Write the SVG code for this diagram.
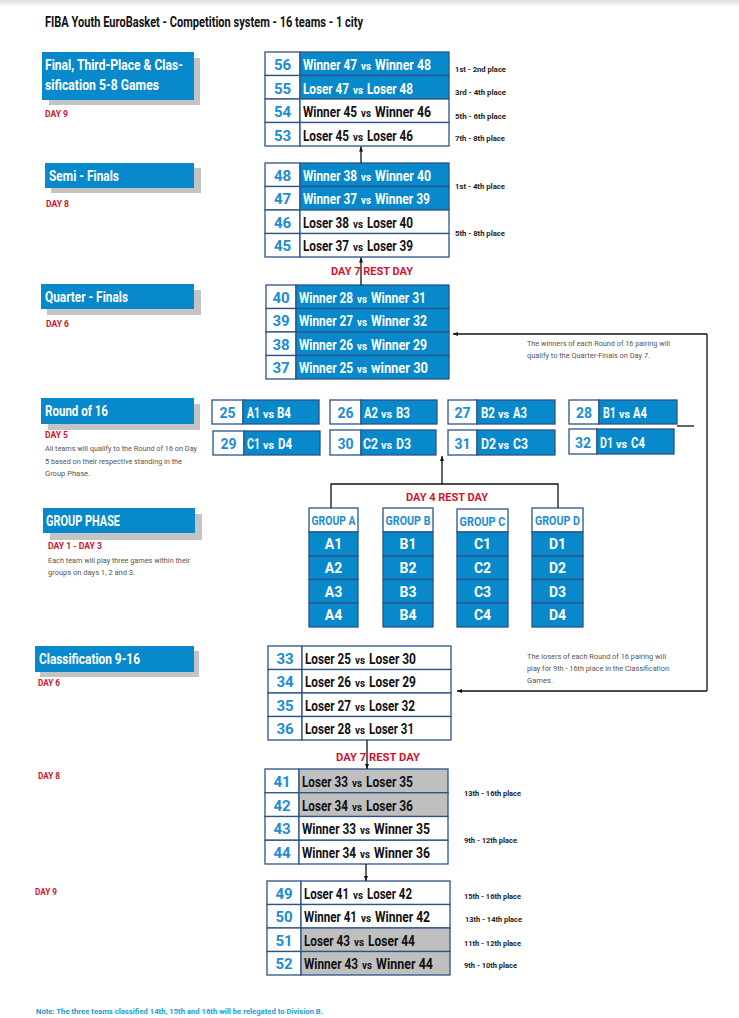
<svg xmlns="http://www.w3.org/2000/svg" width="739" height="1018" viewBox="0 0 739 1018">
<defs>
<linearGradient id="topShade" x1="0" y1="0" x2="0" y2="1">
<stop offset="0" stop-color="#dcdcdc"/>
<stop offset="1" stop-color="#ffffff"/>
</linearGradient>
<marker id="arr" viewBox="0 0 10 10" refX="10" refY="5" markerWidth="5" markerHeight="5" orient="auto-start-reverse" markerUnits="userSpaceOnUse">
<path d="M0,1 L10,5 L0,9 z" fill="#111"/>
</marker>
<style>
text{font-family:"Roboto","Liberation Sans",sans-serif;}
.title{font-size:14px;font-weight:bold;fill:#111;}
.hdr{fill:#0789CC;}
.shadow{fill:#C4C4C4;}
.htxt{font-size:14px;font-weight:bold;fill:#fff;}
.day{font-size:8.5px;font-weight:bold;fill:#D0142C;}
.rest{font-size:11.5px;font-weight:bold;fill:#D0142C;}
.note{font-size:7.5px;fill:#555;}
.place{font-size:7px;font-weight:bold;fill:#222;}
.cell{stroke:#2B5389;stroke-width:1.3;}
.nc{fill:#fff;}
.bc{fill:#0789CC;}
.wc{fill:#fff;}
.gc{fill:#BFBFBF;}
.num{font-size:15px;font-weight:bold;fill:#1C8DD3;text-anchor:middle;}
.rt{font-size:14.5px;font-weight:bold;}
.vs{font-size:10px;font-weight:bold;}
.rw{fill:#fff;}
.rk{fill:#111;}
.r16n{font-size:14px;font-weight:bold;fill:#1C8DD3;text-anchor:middle;}
.r16t{font-size:14px;font-weight:bold;fill:#fff;}
.gh{font-size:13px;font-weight:bold;fill:#1C8DD3;text-anchor:middle;}
.gt{font-size:14px;font-weight:bold;fill:#fff;text-anchor:middle;}
.conn{fill:none;stroke:#111;stroke-width:1.3;}
.foot{font-size:7px;font-weight:bold;fill:#1E9BD7;}
</style>
</defs>
<rect x="0" y="0" width="739" height="1018" fill="#fff"/>
<rect x="0" y="0" width="739" height="7" fill="url(#topShade)"/>

<text class="title" x="45" y="27" textLength="318" lengthAdjust="spacingAndGlyphs">FIBA Youth EuroBasket - Competition system - 16 teams - 1 city</text>

<!-- Left headers -->
<g id="hdr-final">
<rect class="shadow" x="49" y="58" width="151" height="47"/>
<rect class="hdr" x="42" y="52" width="152" height="48"/>
<text class="htxt" x="45" y="70" textLength="138" lengthAdjust="spacingAndGlyphs">Final, Third-Place &amp; Clas-</text>
<text class="htxt" x="45" y="90" textLength="114" lengthAdjust="spacingAndGlyphs">sification 5-8 Games</text>
<text class="day" x="45" y="117" textLength="23" lengthAdjust="spacingAndGlyphs">DAY 9</text>
</g>
<g id="hdr-semi">
<rect class="shadow" x="51" y="168" width="150" height="25"/>
<rect class="hdr" x="45" y="163" width="149" height="25"/>
<text class="htxt" x="49" y="181" textLength="70" lengthAdjust="spacingAndGlyphs">Semi - Finals</text>
<text class="day" x="46" y="207" textLength="23" lengthAdjust="spacingAndGlyphs">DAY 8</text>
</g>
<g id="hdr-qf">
<rect class="shadow" x="47" y="290" width="154" height="25"/>
<rect class="hdr" x="41" y="284" width="153" height="25"/>
<text class="htxt" x="45" y="302" textLength="83" lengthAdjust="spacingAndGlyphs">Quarter - Finals</text>
<text class="day" x="46" y="327" textLength="23" lengthAdjust="spacingAndGlyphs">DAY 6</text>
</g>
<g id="hdr-r16">
<rect class="shadow" x="48" y="404" width="152" height="26"/>
<rect class="hdr" x="41" y="398" width="153" height="26"/>
<text class="htxt" x="45" y="416" textLength="63" lengthAdjust="spacingAndGlyphs">Round of 16</text>
<text class="day" x="45" y="438" style="font-size:9.5px" textLength="23" lengthAdjust="spacingAndGlyphs">DAY 5</text>
<text class="note" x="45" y="451" textLength="152" lengthAdjust="spacingAndGlyphs">All teams will qualify to the Round of 16 on Day</text>
<text class="note" x="45" y="464" textLength="137" lengthAdjust="spacingAndGlyphs">5 based on their respective standing in the</text>
<text class="note" x="45" y="476" textLength="45" lengthAdjust="spacingAndGlyphs">Group Phase.</text>
</g>
<g id="hdr-group">
<rect class="shadow" x="50" y="514" width="152" height="26"/>
<rect class="hdr" x="43" y="508" width="152" height="25"/>
<text class="htxt" x="46" y="526" textLength="74" lengthAdjust="spacingAndGlyphs">GROUP PHASE</text>
<text class="day" x="48" y="549" textLength="54" lengthAdjust="spacingAndGlyphs">DAY 1 - DAY 3</text>
<text class="note" x="48" y="563" textLength="142" lengthAdjust="spacingAndGlyphs">Each team will play three games within their</text>
<text class="note" x="48" y="575" textLength="87" lengthAdjust="spacingAndGlyphs">groups on days 1, 2 and 3.</text>
</g>
<g id="hdr-class">
<rect class="shadow" x="40" y="651" width="159" height="26"/>
<rect class="hdr" x="35" y="646" width="159" height="26"/>
<text class="htxt" x="39" y="664" textLength="101" lengthAdjust="spacingAndGlyphs">Classification 9-16</text>
<text class="day" x="38" y="686" textLength="22" lengthAdjust="spacingAndGlyphs">DAY 6</text>
</g>
<g id="day8-label"><text class="day" x="38" y="779" textLength="22" lengthAdjust="spacingAndGlyphs">DAY 8</text></g>
<g id="day9-label"><text class="day" x="35" y="895" textLength="22" lengthAdjust="spacingAndGlyphs">DAY 9</text></g>

<!-- Final games table -->
<g id="final-games">
<rect class="cell nc" x="265" y="52" width="35" height="23.5"/><rect class="cell bc" x="300" y="52" width="149" height="23.5"/>
<rect class="cell nc" x="265" y="75.5" width="35" height="23.5"/><rect class="cell bc" x="300" y="75.5" width="149" height="23.5"/>
<rect class="cell nc" x="265" y="99" width="35" height="23.5"/><rect class="cell wc" x="300" y="99" width="149" height="23.5"/>
<rect class="cell nc" x="265" y="122.5" width="35" height="23.5"/><rect class="cell wc" x="300" y="122.5" width="149" height="23.5"/>
<text class="num" x="282.5" y="70">56</text>
<text class="num" x="282.5" y="93.5">55</text>
<text class="num" x="282.5" y="117">54</text>
<text class="num" x="282.5" y="140.5">53</text>
<text class="rt rw" transform="translate(303,70) scale(0.8,1)" textLength="67.5" lengthAdjust="spacingAndGlyphs">Winner 47</text><text class="vs rw" transform="translate(361,70) scale(0.8,1)" textLength="12.5" lengthAdjust="spacingAndGlyphs">vs</text><text class="rt rw" transform="translate(375,70) scale(0.8,1)" textLength="70" lengthAdjust="spacingAndGlyphs">Winner 48</text>
<text class="rt rw" transform="translate(303,93.5) scale(0.8,1)" textLength="57.5" lengthAdjust="spacingAndGlyphs">Loser 47</text><text class="vs rw" transform="translate(353,93.5) scale(0.8,1)" textLength="12.5" lengthAdjust="spacingAndGlyphs">vs</text><text class="rt rw" transform="translate(367,93.5) scale(0.8,1)" textLength="57.5" lengthAdjust="spacingAndGlyphs">Loser 48</text>
<text class="rt rk" transform="translate(303,117) scale(0.8,1)" textLength="67.5" lengthAdjust="spacingAndGlyphs">Winner 45</text><text class="vs rk" transform="translate(361,117) scale(0.8,1)" textLength="12.5" lengthAdjust="spacingAndGlyphs">vs</text><text class="rt rk" transform="translate(375,117) scale(0.8,1)" textLength="70" lengthAdjust="spacingAndGlyphs">Winner 46</text>
<text class="rt rk" transform="translate(303,140.5) scale(0.8,1)" textLength="57.5" lengthAdjust="spacingAndGlyphs">Loser 45</text><text class="vs rk" transform="translate(353,140.5) scale(0.8,1)" textLength="12.5" lengthAdjust="spacingAndGlyphs">vs</text><text class="rt rk" transform="translate(367,140.5) scale(0.8,1)" textLength="57.5" lengthAdjust="spacingAndGlyphs">Loser 46</text>
<text class="place" x="455" y="72" textLength="51" lengthAdjust="spacingAndGlyphs">1st - 2nd place</text>
<text class="place" x="455" y="95" textLength="51" lengthAdjust="spacingAndGlyphs">3rd - 4th place</text>
<text class="place" x="455" y="119" textLength="51" lengthAdjust="spacingAndGlyphs">5th - 6th place</text>
<text class="place" x="455" y="141" textLength="50" lengthAdjust="spacingAndGlyphs">7th - 8th place</text>
</g>

<!-- Semi-finals table -->
<g id="semi-finals">
<rect class="cell nc" x="265" y="163" width="35" height="23.5"/><rect class="cell bc" x="300" y="163" width="149" height="23.5"/>
<rect class="cell nc" x="265" y="186.5" width="35" height="23.5"/><rect class="cell bc" x="300" y="186.5" width="149" height="23.5"/>
<rect class="cell nc" x="265" y="210" width="35" height="23.5"/><rect class="cell wc" x="300" y="210" width="149" height="23.5"/>
<rect class="cell nc" x="265" y="233.5" width="35" height="23.5"/><rect class="cell wc" x="300" y="233.5" width="149" height="23.5"/>
<text class="num" x="282.5" y="180.5">48</text>
<text class="num" x="282.5" y="204">47</text>
<text class="num" x="282.5" y="227.5">46</text>
<text class="num" x="282.5" y="251">45</text>
<text class="rt rw" transform="translate(303,180.5) scale(0.8,1)" textLength="67.5" lengthAdjust="spacingAndGlyphs">Winner 38</text><text class="vs rw" transform="translate(361,180.5) scale(0.8,1)" textLength="12.5" lengthAdjust="spacingAndGlyphs">vs</text><text class="rt rw" transform="translate(375,180.5) scale(0.8,1)" textLength="70" lengthAdjust="spacingAndGlyphs">Winner 40</text>
<text class="rt rw" transform="translate(303,204) scale(0.8,1)" textLength="67.5" lengthAdjust="spacingAndGlyphs">Winner 37</text><text class="vs rw" transform="translate(361,204) scale(0.8,1)" textLength="12.5" lengthAdjust="spacingAndGlyphs">vs</text><text class="rt rw" transform="translate(375,204) scale(0.8,1)" textLength="68.75" lengthAdjust="spacingAndGlyphs">Winner 39</text>
<text class="rt rk" transform="translate(303,227.5) scale(0.8,1)" textLength="57.5" lengthAdjust="spacingAndGlyphs">Loser 38</text><text class="vs rk" transform="translate(353,227.5) scale(0.8,1)" textLength="12.5" lengthAdjust="spacingAndGlyphs">vs</text><text class="rt rk" transform="translate(367,227.5) scale(0.8,1)" textLength="57.5" lengthAdjust="spacingAndGlyphs">Loser 40</text>
<text class="rt rk" transform="translate(303,251) scale(0.8,1)" textLength="57.5" lengthAdjust="spacingAndGlyphs">Loser 37</text><text class="vs rk" transform="translate(353,251) scale(0.8,1)" textLength="12.5" lengthAdjust="spacingAndGlyphs">vs</text><text class="rt rk" transform="translate(367,251) scale(0.8,1)" textLength="57.5" lengthAdjust="spacingAndGlyphs">Loser 39</text>
<text class="place" x="455" y="189" textLength="50" lengthAdjust="spacingAndGlyphs">1st - 4th place</text>
<text class="place" x="455" y="236" textLength="50" lengthAdjust="spacingAndGlyphs">5th - 8th place</text>
</g>

<g id="rest-day7-top"><text class="rest" x="331" y="275" textLength="82" lengthAdjust="spacingAndGlyphs">DAY 7 REST DAY</text></g>

<!-- Quarter-finals table -->
<g id="quarter-finals">
<rect class="cell nc" x="266" y="285" width="30" height="23.5"/><rect class="cell bc" x="296" y="285" width="153" height="23.5"/>
<rect class="cell nc" x="266" y="308.5" width="30" height="23.5"/><rect class="cell bc" x="296" y="308.5" width="153" height="23.5"/>
<rect class="cell nc" x="266" y="332" width="30" height="23.5"/><rect class="cell bc" x="296" y="332" width="153" height="23.5"/>
<rect class="cell nc" x="266" y="355.5" width="30" height="23.5"/><rect class="cell bc" x="296" y="355.5" width="153" height="23.5"/>
<text class="num" x="281" y="302.5">40</text>
<text class="num" x="281" y="326">39</text>
<text class="num" x="281" y="349.5">38</text>
<text class="num" x="281" y="373">37</text>
<text class="rt rw" transform="translate(299,302.5) scale(0.8,1)" textLength="67.5" lengthAdjust="spacingAndGlyphs">Winner 28</text><text class="vs rw" transform="translate(357,302.5) scale(0.8,1)" textLength="12.5" lengthAdjust="spacingAndGlyphs">vs</text><text class="rt rw" transform="translate(371,302.5) scale(0.8,1)" textLength="68.75" lengthAdjust="spacingAndGlyphs">Winner 31</text>
<text class="rt rw" transform="translate(299,326) scale(0.8,1)" textLength="67.5" lengthAdjust="spacingAndGlyphs">Winner 27</text><text class="vs rw" transform="translate(357,326) scale(0.8,1)" textLength="12.5" lengthAdjust="spacingAndGlyphs">vs</text><text class="rt rw" transform="translate(371,326) scale(0.8,1)" textLength="70" lengthAdjust="spacingAndGlyphs">Winner 32</text>
<text class="rt rw" transform="translate(299,349.5) scale(0.8,1)" textLength="67.5" lengthAdjust="spacingAndGlyphs">Winner 26</text><text class="vs rw" transform="translate(357,349.5) scale(0.8,1)" textLength="12.5" lengthAdjust="spacingAndGlyphs">vs</text><text class="rt rw" transform="translate(371,349.5) scale(0.8,1)" textLength="70" lengthAdjust="spacingAndGlyphs">Winner 29</text>
<text class="rt rw" transform="translate(299,373) scale(0.8,1)" textLength="67.5" lengthAdjust="spacingAndGlyphs">Winner 25</text><text class="vs rw" transform="translate(357,373) scale(0.8,1)" textLength="12.5" lengthAdjust="spacingAndGlyphs">vs</text><text class="rt rw" transform="translate(371,373) scale(0.8,1)" textLength="71.25" lengthAdjust="spacingAndGlyphs">winner 30</text>
</g>
<g id="qf-note">
<text class="note" x="527" y="346" textLength="143" lengthAdjust="spacingAndGlyphs">The winners of each Round of 16 pairing will</text>
<text class="note" x="527" y="358" textLength="123" lengthAdjust="spacingAndGlyphs">qualify to the Quarter-Finals on Day 7.</text>
</g>

<!-- Round of 16 -->
<g id="g25"><rect class="cell nc" x="212" y="400" width="31" height="24"/><rect class="cell bc" x="243" y="400" width="76" height="24"/><text class="r16n" x="227.5" y="418">25</text><text class="r16t" transform="translate(247,418) scale(0.8,1)" textLength="16.25" lengthAdjust="spacingAndGlyphs">A1</text><text class="vs rw" transform="translate(263,418) scale(0.8,1)" textLength="13.75" lengthAdjust="spacingAndGlyphs">vs</text><text class="r16t" transform="translate(277,418) scale(0.8,1)" textLength="17.5" lengthAdjust="spacingAndGlyphs">B4</text></g>
<g id="g26"><rect class="cell nc" x="330" y="400" width="31" height="24"/><rect class="cell bc" x="361" y="400" width="76" height="24"/><text class="r16n" x="345.5" y="418">26</text><text class="r16t" transform="translate(364,418) scale(0.8,1)" textLength="17.5" lengthAdjust="spacingAndGlyphs">A2</text><text class="vs rw" transform="translate(381,418) scale(0.8,1)" textLength="13.75" lengthAdjust="spacingAndGlyphs">vs</text><text class="r16t" transform="translate(396,418) scale(0.8,1)" textLength="17.5" lengthAdjust="spacingAndGlyphs">B3</text></g>
<g id="g27"><rect class="cell nc" x="448" y="400" width="29" height="24"/><rect class="cell bc" x="477" y="400" width="78" height="24"/><text class="r16n" x="462.5" y="418">27</text><text class="r16t" transform="translate(481,418) scale(0.8,1)" textLength="17.5" lengthAdjust="spacingAndGlyphs">B2</text><text class="vs rw" transform="translate(498,418) scale(0.8,1)" textLength="13.75" lengthAdjust="spacingAndGlyphs">vs</text><text class="r16t" transform="translate(513,418) scale(0.8,1)" textLength="17.5" lengthAdjust="spacingAndGlyphs">A3</text></g>
<g id="g28"><rect class="cell nc" x="569" y="400" width="30" height="24"/><rect class="cell bc" x="599" y="400" width="78" height="24"/><text class="r16n" x="584" y="418">28</text><text class="r16t" transform="translate(603,418) scale(0.8,1)" textLength="16.25" lengthAdjust="spacingAndGlyphs">B1</text><text class="vs rw" transform="translate(619,418) scale(0.8,1)" textLength="13.75" lengthAdjust="spacingAndGlyphs">vs</text><text class="r16t" transform="translate(633,418) scale(0.8,1)" textLength="17.5" lengthAdjust="spacingAndGlyphs">A4</text></g>
<g id="g29"><rect class="cell nc" x="213" y="431" width="31" height="24"/><rect class="cell bc" x="244" y="431" width="76" height="24"/><text class="r16n" x="228.5" y="449">29</text><text class="r16t" transform="translate(247,449) scale(0.8,1)" textLength="16.25" lengthAdjust="spacingAndGlyphs">C1</text><text class="vs rw" transform="translate(263,449) scale(0.8,1)" textLength="13.75" lengthAdjust="spacingAndGlyphs">vs</text><text class="r16t" transform="translate(278,449) scale(0.8,1)" textLength="17.5" lengthAdjust="spacingAndGlyphs">D4</text></g>
<g id="g30"><rect class="cell nc" x="330" y="430" width="31" height="25"/><rect class="cell bc" x="361" y="430" width="75" height="25"/><text class="r16n" x="345.5" y="448.5">30</text><text class="r16t" transform="translate(363,448.5) scale(0.8,1)" textLength="18.75" lengthAdjust="spacingAndGlyphs">C2</text><text class="vs rw" transform="translate(381,448.5) scale(0.8,1)" textLength="13.75" lengthAdjust="spacingAndGlyphs">vs</text><text class="r16t" transform="translate(396,448.5) scale(0.8,1)" textLength="18.75" lengthAdjust="spacingAndGlyphs">D3</text></g>
<g id="g31"><rect class="cell nc" x="448" y="430" width="29" height="25"/><rect class="cell bc" x="477" y="430" width="78" height="25"/><text class="r16n" x="462.5" y="448.5">31</text><text class="r16t" transform="translate(481,448.5) scale(0.8,1)" textLength="18.75" lengthAdjust="spacingAndGlyphs">D2</text><text class="vs rw" transform="translate(498,448.5) scale(0.8,1)" textLength="13.75" lengthAdjust="spacingAndGlyphs">vs</text><text class="r16t" transform="translate(513,448.5) scale(0.8,1)" textLength="18.75" lengthAdjust="spacingAndGlyphs">C3</text></g>
<g id="g32"><rect class="cell nc" x="569" y="429" width="28" height="25"/><rect class="cell bc" x="597" y="429" width="77" height="25"/><text class="r16n" x="583" y="447.5">32</text><text class="r16t" transform="translate(600,447.5) scale(0.8,1)" textLength="16.25" lengthAdjust="spacingAndGlyphs">D1</text><text class="vs rw" transform="translate(616,447.5) scale(0.8,1)" textLength="13.75" lengthAdjust="spacingAndGlyphs">vs</text><text class="r16t" transform="translate(631,447.5) scale(0.8,1)" textLength="17.5" lengthAdjust="spacingAndGlyphs">C4</text></g>

<g id="rest-day4"><text class="rest" x="406" y="501" textLength="82" lengthAdjust="spacingAndGlyphs">DAY 4 REST DAY</text></g>

<!-- Groups -->
<g id="group-a">
<rect class="cell wc" x="309" y="508" width="49" height="24"/>
<rect class="cell bc" x="309" y="532" width="49" height="24"/><rect class="cell bc" x="309" y="556" width="49" height="23.5"/><rect class="cell bc" x="309" y="579.5" width="49" height="23.5"/><rect class="cell bc" x="309" y="603" width="49" height="24"/>
<text class="gh" x="333.5" y="525" textLength="44" lengthAdjust="spacingAndGlyphs">GROUP A</text>
<text class="gt" x="333.5" y="549">A1</text><text class="gt" x="333.5" y="573">A2</text><text class="gt" x="333.5" y="596.5">A3</text><text class="gt" x="333.5" y="620">A4</text>
</g>
<g id="group-b">
<rect class="cell wc" x="383" y="508" width="50" height="24"/>
<rect class="cell bc" x="383" y="532" width="50" height="24"/><rect class="cell bc" x="383" y="556" width="50" height="23.5"/><rect class="cell bc" x="383" y="579.5" width="50" height="23.5"/><rect class="cell bc" x="383" y="603" width="50" height="24"/>
<text class="gh" x="408" y="525" textLength="45" lengthAdjust="spacingAndGlyphs">GROUP B</text>
<text class="gt" x="408" y="549">B1</text><text class="gt" x="408" y="573">B2</text><text class="gt" x="408" y="596.5">B3</text><text class="gt" x="408" y="620">B4</text>
</g>
<g id="group-c">
<rect class="cell wc" x="457" y="509" width="51" height="23"/>
<rect class="cell bc" x="457" y="532" width="51" height="24"/><rect class="cell bc" x="457" y="556" width="51" height="23.5"/><rect class="cell bc" x="457" y="579.5" width="51" height="23.5"/><rect class="cell bc" x="457" y="603" width="51" height="24"/>
<text class="gh" x="482.5" y="526" textLength="46" lengthAdjust="spacingAndGlyphs">GROUP C</text>
<text class="gt" x="482.5" y="549">C1</text><text class="gt" x="482.5" y="573">C2</text><text class="gt" x="482.5" y="596.5">C3</text><text class="gt" x="482.5" y="620">C4</text>
</g>
<g id="group-d">
<rect class="cell wc" x="532" y="508" width="51" height="24"/>
<rect class="cell bc" x="532" y="532" width="51" height="24"/><rect class="cell bc" x="532" y="556" width="51" height="23.5"/><rect class="cell bc" x="532" y="579.5" width="51" height="23.5"/><rect class="cell bc" x="532" y="603" width="51" height="24"/>
<text class="gh" x="557.5" y="525" textLength="45" lengthAdjust="spacingAndGlyphs">GROUP D</text>
<text class="gt" x="557.5" y="549">D1</text><text class="gt" x="557.5" y="573">D2</text><text class="gt" x="557.5" y="596.5">D3</text><text class="gt" x="557.5" y="620">D4</text>
</g>

<!-- Classification 9-16 -->
<g id="class-9-16">
<rect class="cell nc" x="268" y="646" width="34" height="23.5"/><rect class="cell wc" x="302" y="646" width="149" height="23.5"/>
<rect class="cell nc" x="268" y="669.5" width="34" height="23.5"/><rect class="cell wc" x="302" y="669.5" width="149" height="23.5"/>
<rect class="cell nc" x="268" y="693" width="34" height="23.5"/><rect class="cell wc" x="302" y="693" width="149" height="23.5"/>
<rect class="cell nc" x="268" y="716.5" width="34" height="23.5"/><rect class="cell wc" x="302" y="716.5" width="149" height="23.5"/>
<text class="num" x="285" y="663.5">33</text>
<text class="num" x="285" y="687">34</text>
<text class="num" x="285" y="710.5">35</text>
<text class="num" x="285" y="734">36</text>
<text class="rt rk" transform="translate(305,663.5) scale(0.8,1)" textLength="57.5" lengthAdjust="spacingAndGlyphs">Loser 25</text><text class="vs rk" transform="translate(355,663.5) scale(0.8,1)" textLength="12.5" lengthAdjust="spacingAndGlyphs">vs</text><text class="rt rk" transform="translate(369,663.5) scale(0.8,1)" textLength="58.75" lengthAdjust="spacingAndGlyphs">Loser 30</text>
<text class="rt rk" transform="translate(305,687) scale(0.8,1)" textLength="57.5" lengthAdjust="spacingAndGlyphs">Loser 26</text><text class="vs rk" transform="translate(355,687) scale(0.8,1)" textLength="12.5" lengthAdjust="spacingAndGlyphs">vs</text><text class="rt rk" transform="translate(369,687) scale(0.8,1)" textLength="58.75" lengthAdjust="spacingAndGlyphs">Loser 29</text>
<text class="rt rk" transform="translate(305,710.5) scale(0.8,1)" textLength="57.5" lengthAdjust="spacingAndGlyphs">Loser 27</text><text class="vs rk" transform="translate(355,710.5) scale(0.8,1)" textLength="12.5" lengthAdjust="spacingAndGlyphs">vs</text><text class="rt rk" transform="translate(369,710.5) scale(0.8,1)" textLength="57.5" lengthAdjust="spacingAndGlyphs">Loser 32</text>
<text class="rt rk" transform="translate(305,734) scale(0.8,1)" textLength="57.5" lengthAdjust="spacingAndGlyphs">Loser 28</text><text class="vs rk" transform="translate(355,734) scale(0.8,1)" textLength="12.5" lengthAdjust="spacingAndGlyphs">vs</text><text class="rt rk" transform="translate(369,734) scale(0.8,1)" textLength="56.25" lengthAdjust="spacingAndGlyphs">Loser 31</text>
</g>
<g id="class-note">
<text class="note" x="527" y="659" textLength="139" lengthAdjust="spacingAndGlyphs">The losers of each Round of 16 pairing will</text>
<text class="note" x="527" y="671" textLength="142" lengthAdjust="spacingAndGlyphs">play for 9th - 16th place in the Classification</text>
<text class="note" x="527" y="683" textLength="26" lengthAdjust="spacingAndGlyphs">Games.</text>
</g>

<g id="rest-day7-bottom"><text class="rest" x="336" y="761" textLength="84" lengthAdjust="spacingAndGlyphs">DAY 7 REST DAY</text></g>

<!-- Day 8 games -->
<g id="day8-games">
<rect class="cell nc" x="265" y="769" width="34" height="23.75"/><rect class="cell gc" x="299" y="769" width="149" height="23.75"/>
<rect class="cell nc" x="265" y="792.75" width="34" height="23.75"/><rect class="cell gc" x="299" y="792.75" width="149" height="23.75"/>
<rect class="cell nc" x="265" y="816.5" width="34" height="23.75"/><rect class="cell wc" x="299" y="816.5" width="149" height="23.75"/>
<rect class="cell nc" x="265" y="840.25" width="34" height="23.75"/><rect class="cell wc" x="299" y="840.25" width="149" height="23.75"/>
<text class="num" x="282" y="787">41</text>
<text class="num" x="282" y="810.5">42</text>
<text class="num" x="282" y="834">43</text>
<text class="num" x="282" y="858">44</text>
<text class="rt rk" transform="translate(302,787) scale(0.8,1)" textLength="57.5" lengthAdjust="spacingAndGlyphs">Loser 33</text><text class="vs rk" transform="translate(352,787) scale(0.8,1)" textLength="12.5" lengthAdjust="spacingAndGlyphs">vs</text><text class="rt rk" transform="translate(366,787) scale(0.8,1)" textLength="58.75" lengthAdjust="spacingAndGlyphs">Loser 35</text>
<text class="rt rk" transform="translate(302,810.5) scale(0.8,1)" textLength="57.5" lengthAdjust="spacingAndGlyphs">Loser 34</text><text class="vs rk" transform="translate(352,810.5) scale(0.8,1)" textLength="12.5" lengthAdjust="spacingAndGlyphs">vs</text><text class="rt rk" transform="translate(366,810.5) scale(0.8,1)" textLength="58.75" lengthAdjust="spacingAndGlyphs">Loser 36</text>
<text class="rt rk" transform="translate(302,834) scale(0.8,1)" textLength="67.5" lengthAdjust="spacingAndGlyphs">Winner 33</text><text class="vs rk" transform="translate(360,834) scale(0.8,1)" textLength="12.5" lengthAdjust="spacingAndGlyphs">vs</text><text class="rt rk" transform="translate(374,834) scale(0.8,1)" textLength="70" lengthAdjust="spacingAndGlyphs">Winner 35</text>
<text class="rt rk" transform="translate(302,858) scale(0.8,1)" textLength="67.5" lengthAdjust="spacingAndGlyphs">Winner 34</text><text class="vs rk" transform="translate(360,858) scale(0.8,1)" textLength="12.5" lengthAdjust="spacingAndGlyphs">vs</text><text class="rt rk" transform="translate(374,858) scale(0.8,1)" textLength="70" lengthAdjust="spacingAndGlyphs">Winner 36</text>
<text class="place" x="464" y="796" textLength="57" lengthAdjust="spacingAndGlyphs">13th - 16th place</text>
<text class="place" x="464" y="843" textLength="53" lengthAdjust="spacingAndGlyphs">9th - 12th place</text>
</g>

<!-- Day 9 games -->
<g id="day9-games">
<rect class="cell nc" x="267" y="881" width="34" height="23.5"/><rect class="cell wc" x="301" y="881" width="149" height="23.5"/>
<rect class="cell nc" x="267" y="904.5" width="34" height="23.5"/><rect class="cell wc" x="301" y="904.5" width="149" height="23.5"/>
<rect class="cell nc" x="267" y="928" width="34" height="23.5"/><rect class="cell gc" x="301" y="928" width="149" height="23.5"/>
<rect class="cell nc" x="267" y="951.5" width="34" height="23.5"/><rect class="cell gc" x="301" y="951.5" width="149" height="23.5"/>
<text class="num" x="284" y="898.5">49</text>
<text class="num" x="284" y="922">50</text>
<text class="num" x="284" y="945.5">51</text>
<text class="num" x="284" y="969">52</text>
<text class="rt rk" transform="translate(304,898.5) scale(0.8,1)" textLength="56.25" lengthAdjust="spacingAndGlyphs">Loser 41</text><text class="vs rk" transform="translate(353,898.5) scale(0.8,1)" textLength="12.5" lengthAdjust="spacingAndGlyphs">vs</text><text class="rt rk" transform="translate(367,898.5) scale(0.8,1)" textLength="56.25" lengthAdjust="spacingAndGlyphs">Loser 42</text>
<text class="rt rk" transform="translate(304,922) scale(0.8,1)" textLength="66.25" lengthAdjust="spacingAndGlyphs">Winner 41</text><text class="vs rk" transform="translate(361,922) scale(0.8,1)" textLength="12.5" lengthAdjust="spacingAndGlyphs">vs</text><text class="rt rk" transform="translate(375,922) scale(0.8,1)" textLength="68.75" lengthAdjust="spacingAndGlyphs">Winner 42</text>
<text class="rt rk" transform="translate(304,945.5) scale(0.8,1)" textLength="57.5" lengthAdjust="spacingAndGlyphs">Loser 43</text><text class="vs rk" transform="translate(354,945.5) scale(0.8,1)" textLength="12.5" lengthAdjust="spacingAndGlyphs">vs</text><text class="rt rk" transform="translate(368,945.5) scale(0.8,1)" textLength="58.75" lengthAdjust="spacingAndGlyphs">Loser 44</text>
<text class="rt rk" transform="translate(304,969) scale(0.8,1)" textLength="67.5" lengthAdjust="spacingAndGlyphs">Winner 43</text><text class="vs rk" transform="translate(362,969) scale(0.8,1)" textLength="12.5" lengthAdjust="spacingAndGlyphs">vs</text><text class="rt rk" transform="translate(376,969) scale(0.8,1)" textLength="71.25" lengthAdjust="spacingAndGlyphs">Winner 44</text>
<text class="place" x="464" y="899" textLength="57" lengthAdjust="spacingAndGlyphs">15th - 16th place</text>
<text class="place" x="465" y="922" textLength="57" lengthAdjust="spacingAndGlyphs">13th - 14th place</text>
<text class="place" x="464" y="946" textLength="57" lengthAdjust="spacingAndGlyphs">11th - 12th place</text>
<text class="place" x="464" y="968" textLength="53" lengthAdjust="spacingAndGlyphs">9th - 10th place</text>
</g>

<!-- Connectors -->
<g id="connectors">
<line class="conn" x1="361" y1="163" x2="361" y2="146.5" marker-end="url(#arr)"/>
<line class="conn" x1="361" y1="285" x2="361" y2="257.5" marker-end="url(#arr)"/>
<polyline class="conn" points="707,334 707,691"/>
<line class="conn" x1="707" y1="334" x2="453" y2="334" marker-end="url(#arr)"/>
<line class="conn" x1="707" y1="691" x2="457" y2="691" marker-end="url(#arr)"/>
<line class="conn" x1="677" y1="426" x2="694" y2="426"/>
<polyline class="conn" points="331,508 331,484 558,484 558,508"/>
<line class="conn" x1="442" y1="484" x2="442" y2="456" marker-end="url(#arr)"/>
<line class="conn" x1="367" y1="740" x2="367" y2="769" marker-end="url(#arr)"/>
<line class="conn" x1="366" y1="864" x2="366" y2="881" marker-end="url(#arr)"/>
</g>

<g id="footnote"><text class="foot" x="36" y="1014" textLength="287" lengthAdjust="spacingAndGlyphs">Note: The three teams classified 14th, 15th and 16th will be relegated to Division B.</text></g>
</svg>
